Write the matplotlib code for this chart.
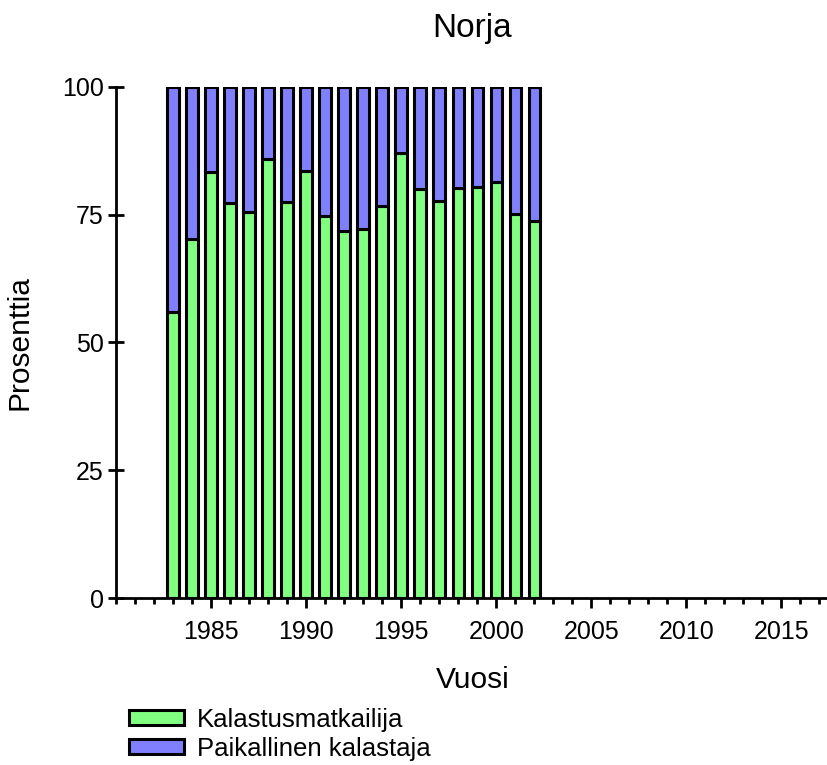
import matplotlib
matplotlib.use("Agg")
import matplotlib.pyplot as plt
from matplotlib.ticker import MultipleLocator

years = list(range(1983, 2003))
kalastusmatkailija = [55.9, 70.3, 83.3, 77.2, 75.6, 85.9, 77.4, 83.6, 74.8, 71.9,
                      72.3, 76.8, 87.1, 80.0, 77.6, 80.2, 80.4, 81.4, 75.1, 73.7]
paikallinen = [100 - v for v in kalastusmatkailija]

series_names = ["Kalastusmatkailija", "Paikallinen kalastaja"]
colors = ["#80FF80", "#8080FF"]

plt.rcParams['font.family'] = ['Liberation Sans', 'DejaVu Sans']

fig = plt.figure(figsize=(8.27, 7.65), dpi=100)
ax = fig.add_axes([0.1403, 0.2183, 0.862, 0.668])

ax.bar(years, kalastusmatkailija, width=0.6, color=colors[0], edgecolor='black',
       linewidth=2.2, label=series_names[0])
ax.bar(years, paikallinen, width=0.6, bottom=kalastusmatkailija, color=colors[1],
       edgecolor='black', linewidth=2.2, label=series_names[1])

ax.set_xlim(1980, 2017.5)
ax.set_ylim(0, 100)
ax.set_yticks([0, 25, 50, 75, 100])
ax.xaxis.set_minor_locator(MultipleLocator(1))
ax.set_xticks([1985, 1990, 1995, 2000, 2005, 2010, 2015])

for side in ['top', 'right']:
    ax.spines[side].set_visible(False)
for side in ['left', 'bottom']:
    ax.spines[side].set_linewidth(2.0)

ax.tick_params(axis='y', direction='inout', length=12, width=2.0, labelsize=18, pad=3)
ax.tick_params(axis='x', which='major', direction='out', length=7, width=2.0,
               labelsize=18, pad=9)
ax.tick_params(axis='x', which='minor', direction='out', length=4, width=2.0)

ax.set_xlabel("Vuosi", fontsize=21.5, labelpad=16)
ax.set_ylabel("Prosenttia", fontsize=21.5, labelpad=20)
ax.set_title("Norja", fontsize=24, pad=36)

fig.legend(loc='upper left', bbox_to_anchor=(0.156, 0.075), frameon=False,
           fontsize=18.5, handlelength=2.14, handleheight=0.5, handletextpad=0.5,
           labelspacing=0.2, borderaxespad=0, borderpad=0)

fig.savefig("out.png", dpi=100)
